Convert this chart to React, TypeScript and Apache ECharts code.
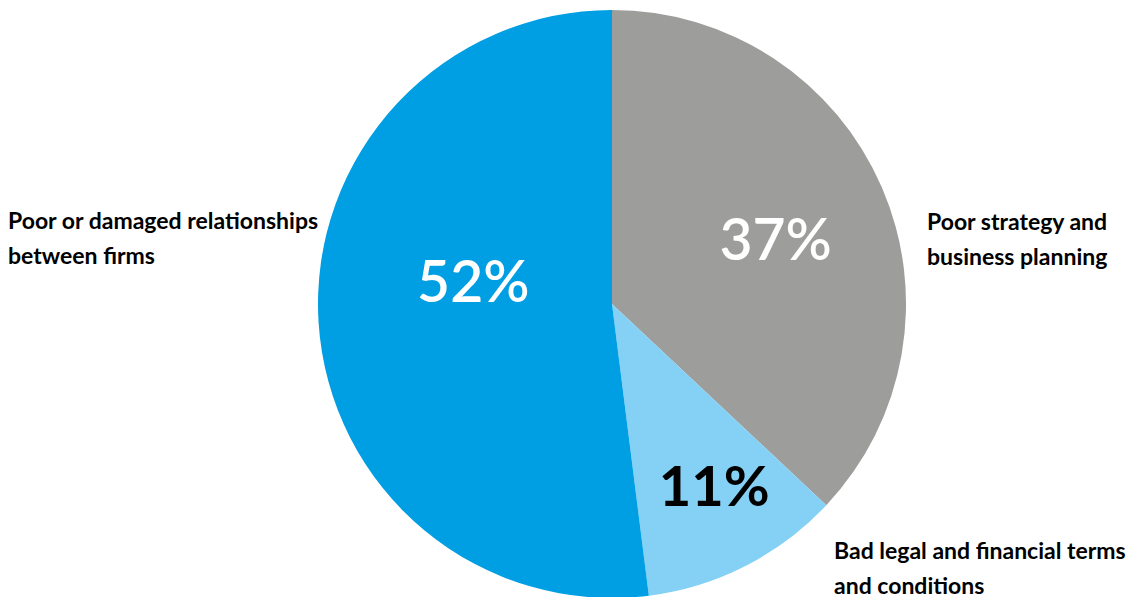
import React, { useEffect, useRef } from "react";
import * as echarts from "echarts";

const categories = [
  "Poor strategy and business planning",
  "Bad legal and financial terms and conditions",
  "Poor or damaged relationships between firms",
];
const values = [37, 11, 52];
const colors = ["#9D9D9C", "#85D0F5", "#009FE3"];
const pctColors = ["#FFFFFF", "#000000", "#FFFFFF"];
const pctWeights = ["600", "bold", "600"];
const pctSizes = [57, 56, 57];
const nameLines = [
  ["Poor strategy and", "business planning"],
  ["Bad legal and financial terms", "and conditions"],
  ["Poor or damaged relationships", "between firms"],
];

export default function App() {
  const ref = useRef<HTMLDivElement>(null);
  useEffect(() => {
    if (!ref.current) return;
    const chart = echarts.init(ref.current, null, { renderer: "svg" });
    const pctShift = [
      [26, -6],
      [34, 47],
      [11, -33],
    ];
    const namePos = [
      [927, 203],
      [834, 532],
      [8, 202],
    ];
    chart.setOption({
      animation: false,
      backgroundColor: "#ffffff",
      series: [
        {
          type: "pie",
          center: [612, 304],
          radius: 294,
          startAngle: 90,
          clockwise: true,
          silent: true,
          data: categories.map((c, i) => ({
            name: c,
            value: values[i],
            itemStyle: { color: colors[i] },
            label: { color: pctColors[i], fontWeight: pctWeights[i], fontSize: pctSizes[i] },
          })),
          label: {
            show: true,
            position: "inside",
            formatter: (p: any) => p.value + "%",
            fontFamily: "Lato",
          },
          labelLine: { show: false },
          labelLayout: (p: any) => ({ dx: pctShift[p.dataIndex][0], dy: pctShift[p.dataIndex][1] }),
        },
      ],
      graphic: nameLines.map((lines, i) => ({
        type: "text",
        left: namePos[i][0],
        top: namePos[i][1],
        style: {
          text: lines.join("\n"),
          fontFamily: "Lato",
          fontWeight: "bold",
          fontSize: 23,
          lineHeight: 35,
          fill: "#000000",
        },
      })),
    });
    return () => chart.dispose();
  }, []);
  return (
    <div
      ref={ref}
      style={{ position: "fixed", left: 0, top: 0, width: 1129, height: 597, background: "#fff" }}
    />
  );
}
